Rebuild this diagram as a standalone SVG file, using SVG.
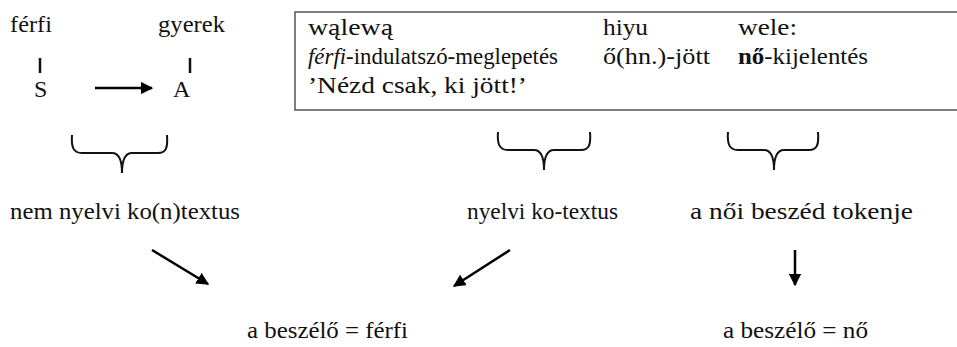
<svg xmlns="http://www.w3.org/2000/svg" width="957" height="347" viewBox="0 0 957 347" font-family="'Liberation Serif', 'Times New Roman', serif" font-size="24" fill="#111">
<style>
.bar{stroke:#111;stroke-width:2.5}
.brace{fill:none;stroke:#111;stroke-width:2}
.arr{stroke:#000;stroke-width:2.5;fill:none}
</style>
<defs>
<marker id="ah" viewBox="0 0 10 10" refX="9" refY="5" markerWidth="5" markerHeight="5" orient="auto" markerUnits="strokeWidth">
<path d="M0,0 L10,5 L0,10 z" fill="#000"/>
</marker>
</defs>
<rect width="957" height="347" fill="#fff"/>
<g id="speaker">
<text x="10" y="32" textLength="42" lengthAdjust="spacingAndGlyphs">férfi</text>
<line class="bar" x1="40" y1="58" x2="40" y2="73"/>
<text x="34" y="97">S</text>
</g>
<g id="addressee">
<text x="158" y="32" textLength="67" lengthAdjust="spacingAndGlyphs">gyerek</text>
<line class="bar" x1="190" y1="58" x2="190" y2="73"/>
<text x="173" y="97">A</text>
</g>
<g id="example">
<rect x="295" y="12" width="700" height="98" fill="none" stroke="#555" stroke-width="1.5"/>
<text x="308" y="35" textLength="85" lengthAdjust="spacingAndGlyphs">wąlewą</text>
<text x="603" y="35" textLength="45" lengthAdjust="spacingAndGlyphs">hiyu</text>
<text x="738" y="35" textLength="59" lengthAdjust="spacingAndGlyphs">wele:</text>
<text x="308" y="64" textLength="250" lengthAdjust="spacingAndGlyphs"><tspan font-style="italic">férfi</tspan>-indulatszó-meglepetés</text>
<text x="603" y="64" textLength="107" lengthAdjust="spacingAndGlyphs">ő(hn.)-jött</text>
<text x="738" y="64" textLength="130" lengthAdjust="spacingAndGlyphs"><tspan font-weight="bold">nő</tspan>-kijelentés</text>
<text x="308" y="93" textLength="219" lengthAdjust="spacingAndGlyphs">’Nézd csak, ki jött!’</text>
</g>
<g id="brace1">
<path class="brace" d="M72,135 C71,148 74,153 82,153 L112,153 C119,153 122,160 122,173 M122,173 C122,160 125,153 132,153 L158,153 C166,153 168,148 167,135"/>
</g>
<g id="brace2">
<path class="brace" d="M498,132 C497,145 500,150 508,150 L534,150 C541,150 544,157 544,170 M544,170 C544,157 547,150 554,150 L581,150 C589,150 591,145 590,132"/>
</g>
<g id="brace3">
<path class="brace" d="M728,132 C727,145 730,150 738,150 L764,150 C771,150 774,157 774,170 M774,170 C774,157 777,150 784,150 L809,150 C817,150 819,145 818,132"/>
</g>
<g id="label-nonling">
<text x="10" y="219" textLength="230" lengthAdjust="spacingAndGlyphs">nem nyelvi ko(n)textus</text>
</g>
<g id="label-cotext">
<text x="467" y="219" textLength="151" lengthAdjust="spacingAndGlyphs">nyelvi ko-textus</text>
</g>
<g id="label-token">
<text x="690" y="219" textLength="223" lengthAdjust="spacingAndGlyphs">a női beszéd tokenje</text>
</g>
<g id="result-male">
<text x="247" y="338" textLength="161" lengthAdjust="spacingAndGlyphs">a beszélő = férfi</text>
</g>
<g id="result-female">
<text x="723" y="338" textLength="145" lengthAdjust="spacingAndGlyphs">a beszélő = nő</text>
</g>
<g id="connectors">
<line class="arr" x1="95" y1="88" x2="152" y2="88" marker-end="url(#ah)"/>
<line class="arr" x1="152" y1="250" x2="208" y2="284" marker-end="url(#ah)"/>
<line class="arr" x1="510" y1="250" x2="454" y2="286" marker-end="url(#ah)"/>
<line class="arr" x1="795" y1="250" x2="795" y2="285" marker-end="url(#ah)"/>
</g>
</svg>
